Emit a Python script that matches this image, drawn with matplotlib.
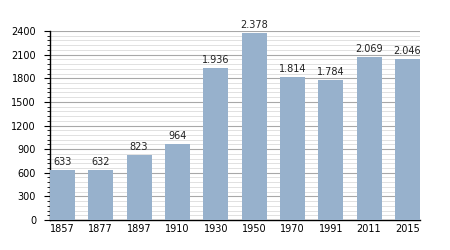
import matplotlib.pyplot as plt
from matplotlib.ticker import MultipleLocator

years = ['1857', '1877', '1897', '1910', '1930', '1950', '1970', '1991', '2011', '2015']
population = [633, 632, 823, 964, 1936, 2378, 1814, 1784, 2069, 2046]
labels = ['633', '632', '823', '964', '1.936', '2.378', '1.814', '1.784', '2.069', '2.046']

fig = plt.figure(figsize=(4.5, 2.5), dpi=100)
ax = fig.add_axes([0.111, 0.12, 0.822, 0.756])

x = range(len(years))
width = 0.65
ax.bar(x, population, width=width, color='#97b1cc', zorder=3)

for i, (v, lab) in enumerate(zip(population, labels)):
    ax.text(i, v + 35, lab, ha='center', va='bottom', fontsize=7, color='#222222')

ax.set_xlim(-width / 2, len(years) - 1 + width / 2)
ax.set_ylim(0, 2400)
ax.set_xticks(list(x))
ax.set_xticklabels(years)
ax.yaxis.set_major_locator(MultipleLocator(300))
ax.yaxis.set_minor_locator(MultipleLocator(60))

ax.grid(axis='y', which='major', color='#a8a8a8', linewidth=0.8, zorder=0)
ax.grid(axis='y', which='minor', color='#dcdcdc', linewidth=0.6, zorder=0)

for s in ['top', 'right']:
    ax.spines[s].set_visible(False)
ax.spines['left'].set_linewidth(1)
ax.spines['bottom'].set_linewidth(1)

ax.tick_params(axis='y', which='major', length=4, width=0.8, labelsize=7, pad=6)
ax.tick_params(axis='y', which='minor', length=2.5, width=0.6)
ax.tick_params(axis='x', length=0, labelsize=7, pad=3)

fig.savefig('out.png', dpi=100)
